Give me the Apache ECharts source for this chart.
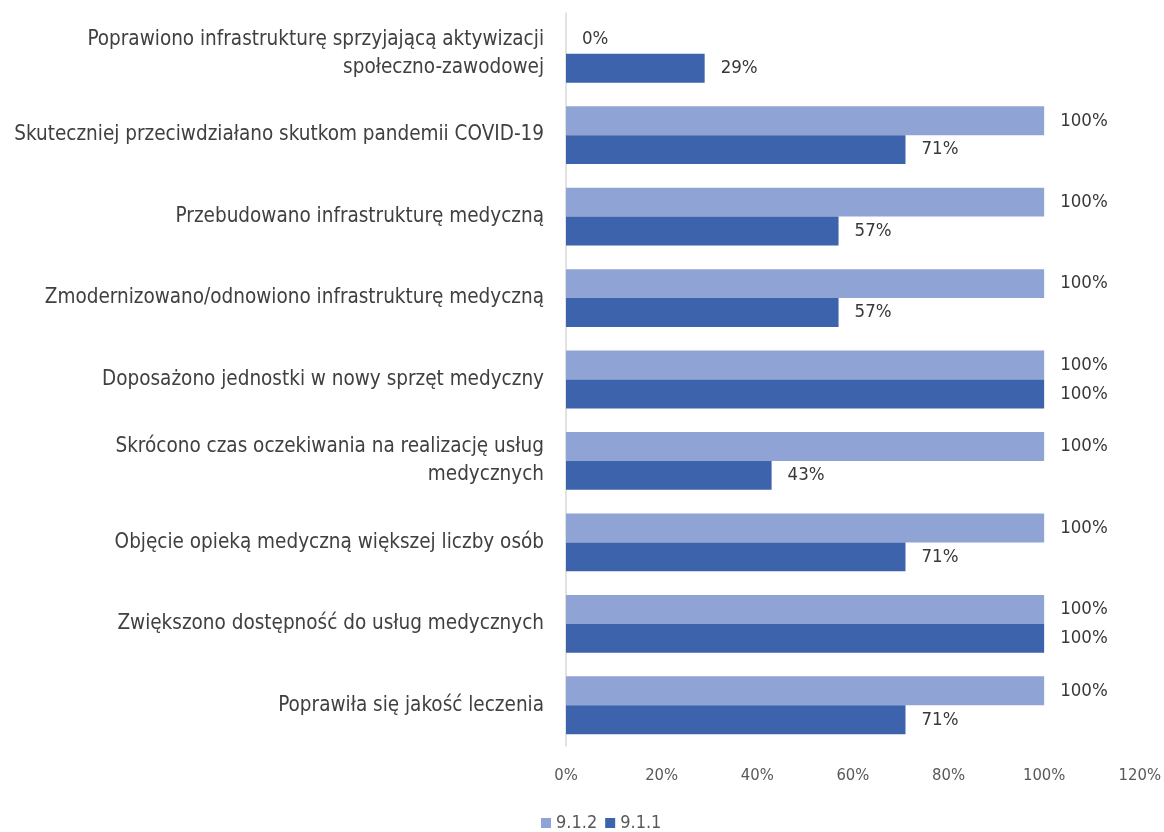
<!DOCTYPE html>
<html>
<head>
<meta charset="utf-8">
<script src="https://cdn.jsdelivr.net/npm/echarts@6/dist/echarts.min.js"></script>
<style>
  html, body { margin: 0; padding: 0; background: #ffffff; }
  #chart { width: 1164px; height: 832px; }
</style>
</head>
<body>
<div id="chart"></div>
<script>
// Effects of the supported projects, by indicator group
const categories = [
  'Poprawiono infrastrukturę sprzyjającą aktywizacji\nspołeczno-zawodowej',
  'Skuteczniej przeciwdziałano skutkom pandemii COVID-19',
  'Przebudowano infrastrukturę medyczną',
  'Zmodernizowano/odnowiono infrastrukturę medyczną',
  'Doposażono jednostki w nowy sprzęt medyczny',
  'Skrócono czas oczekiwania na realizację usług\nmedycznych',
  'Objęcie opieką medyczną większej liczby osób',
  'Zwiększono dostępność do usług medycznych',
  'Poprawiła się jakość leczenia'
];
const series912 = [0, 100, 100, 100, 100, 100, 100, 100, 100];
const series911 = [29, 71, 57, 57, 100, 43, 71, 100, 71];
const seriesNames = ['9.1.2', '9.1.1'];
const axisTicks = [0, 20, 40, 60, 80, 100, 120];

const FONT = '"Liberation Sans Narrow", "DejaVu Sans Condensed", sans-serif';
const TEXT = '#404040';

const valueLabel = {
  show: true, position: 'right', distance: 16, formatter: '{c}%',
  fontFamily: FONT, fontSize: 18.5, color: '#383838'
};

const chart = echarts.init(document.getElementById('chart'));
chart.setOption({
  animation: false,
  textStyle: { fontFamily: FONT },
  grid: { left: 566, right: 23, top: 13, bottom: 86, containLabel: false },
  legend: {
    bottom: 0,
    left: 536,
    padding: [0, 5],
    itemWidth: 10,
    itemHeight: 10,
    itemGap: 8,
    icon: 'rect',
    textStyle: { fontFamily: FONT, fontSize: 18, color: '#595959' },
    data: seriesNames
  },
  xAxis: {
    type: 'value',
    min: axisTicks[0],
    max: axisTicks[axisTicks.length - 1],
    interval: 20,
    axisLine: { show: false },
    axisTick: { show: false },
    splitLine: { show: false },
    axisLabel: {
      formatter: v => v + '%',
      fontFamily: FONT, fontSize: 16.5, color: '#595959', margin: 21
    }
  },
  yAxis: {
    type: 'category',
    inverse: true,
    data: categories,
    axisLine: { show: true, lineStyle: { color: '#d9d9d9', width: 1.5 } },
    axisTick: { show: false },
    axisLabel: {
      fontFamily: FONT, fontSize: 20.5, color: TEXT, margin: 22,
      align: 'right', lineHeight: 28
    }
  },
  series: [
    {
      name: seriesNames[0],
      type: 'bar',
      data: series912,
      barCategoryGap: '29%',
      barGap: '0%',
      itemStyle: { color: '#8FA4D4' },
      label: valueLabel
    },
    {
      name: seriesNames[1],
      type: 'bar',
      data: series911,
      barCategoryGap: '29%',
      barGap: '0%',
      itemStyle: { color: '#3C63AC' },
      label: valueLabel
    }
  ]
});
</script>
</body>
</html>
